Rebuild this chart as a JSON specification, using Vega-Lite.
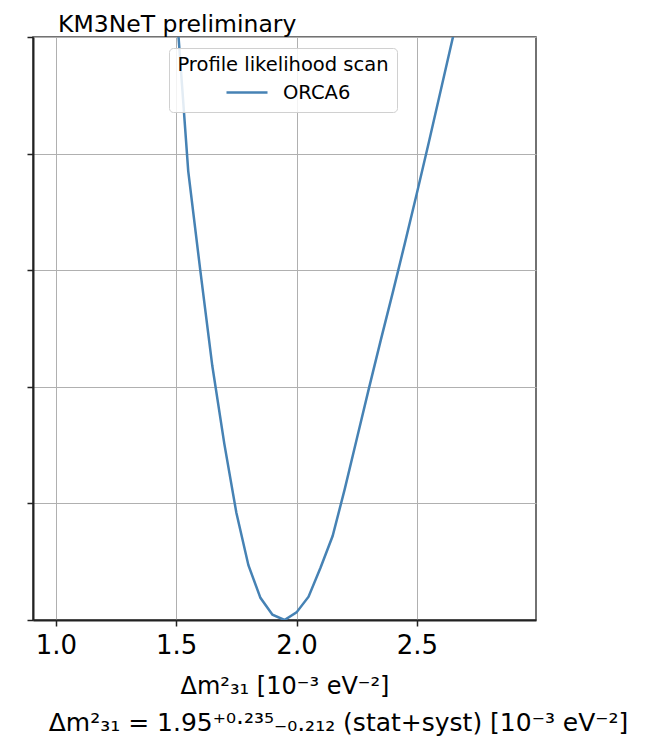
{
  "$schema": "https://vega.github.io/schema/vega-lite/v6.json",
  "autosize": {"type": "none"},
  "width": 503,
  "height": 583,
  "padding": {"left": 33, "top": 37, "right": 110, "bottom": 123},
  "background": "white",
  "title": {
    "text": "KM3NeT preliminary",
    "anchor": "start",
    "frame": "group",
    "dx": 25,
    "dy": 29,
    "offset": 10,
    "baseline": "alphabetic",
    "font": "DejaVu Sans",
    "fontSize": 23.5,
    "fontWeight": "normal",
    "color": "black"
  },
  "config": {
    "view": {"stroke": "#444444", "strokeWidth": 1.5},
    "axis": {
      "labelFont": "DejaVu Sans",
      "titleFont": "DejaVu Sans",
      "labelColor": "black",
      "titleColor": "black",
      "titleFontWeight": "normal",
      "gridColor": "#b0b0b0",
      "gridWidth": 1,
      "gridOpacity": 1,
      "domainColor": "#222222",
      "domainWidth": 2,
      "tickColor": "#222222",
      "tickWidth": 1.5,
      "tickSize": 6
    },
    "legend": {
      "orient": "none",
      "legendX": 136,
      "legendY": 11,
      "fillColor": "rgba(255,255,255,0.85)",
      "strokeColor": "#d0d0d0",
      "cornerRadius": 4,
      "padding": 8,
      "titleFont": "DejaVu Sans",
      "labelFont": "DejaVu Sans",
      "titleFontSize": 19.5,
      "labelFontSize": 19.5,
      "titleFontWeight": "normal",
      "titleColor": "black",
      "labelColor": "black",
      "titleAnchor": "middle",
      "titleLimit": 400,
      "titlePadding": 6,
      "symbolType": "stroke",
      "symbolSize": 1681,
      "symbolStrokeWidth": 2.5,
      "symbolOffset": 9,
      "clipHeight": 22,
      "labelOffset": 14
    }
  },
  "data": {
    "values": [
      {"dm2": 1.00, "dchi2": 25.7, "series": "ORCA6"},
      {"dm2": 1.05, "dchi2": 23.2, "series": "ORCA6"},
      {"dm2": 1.10, "dchi2": 20.8, "series": "ORCA6"},
      {"dm2": 1.15, "dchi2": 18.5, "series": "ORCA6"},
      {"dm2": 1.20, "dchi2": 16.3, "series": "ORCA6"},
      {"dm2": 1.25, "dchi2": 14.2, "series": "ORCA6"},
      {"dm2": 1.30, "dchi2": 12.2, "series": "ORCA6"},
      {"dm2": 1.35, "dchi2": 10.3, "series": "ORCA6"},
      {"dm2": 1.40, "dchi2": 8.5, "series": "ORCA6"},
      {"dm2": 1.45, "dchi2": 6.8, "series": "ORCA6"},
      {"dm2": 1.50, "dchi2": 5.28, "series": "ORCA6"},
      {"dm2": 1.55, "dchi2": 3.85, "series": "ORCA6"},
      {"dm2": 1.60, "dchi2": 3.0, "series": "ORCA6"},
      {"dm2": 1.65, "dchi2": 2.18, "series": "ORCA6"},
      {"dm2": 1.70, "dchi2": 1.51, "series": "ORCA6"},
      {"dm2": 1.75, "dchi2": 0.92, "series": "ORCA6"},
      {"dm2": 1.80, "dchi2": 0.47, "series": "ORCA6"},
      {"dm2": 1.85, "dchi2": 0.19, "series": "ORCA6"},
      {"dm2": 1.90, "dchi2": 0.045, "series": "ORCA6"},
      {"dm2": 1.95, "dchi2": 0.0, "series": "ORCA6"},
      {"dm2": 2.00, "dchi2": 0.065, "series": "ORCA6"},
      {"dm2": 2.05, "dchi2": 0.2, "series": "ORCA6"},
      {"dm2": 2.10, "dchi2": 0.45, "series": "ORCA6"},
      {"dm2": 2.15, "dchi2": 0.72, "series": "ORCA6"},
      {"dm2": 2.20, "dchi2": 1.12, "series": "ORCA6"},
      {"dm2": 2.25, "dchi2": 1.55, "series": "ORCA6"},
      {"dm2": 2.30, "dchi2": 1.98, "series": "ORCA6"},
      {"dm2": 2.35, "dchi2": 2.4, "series": "ORCA6"},
      {"dm2": 2.40, "dchi2": 2.81, "series": "ORCA6"},
      {"dm2": 2.45, "dchi2": 3.23, "series": "ORCA6"},
      {"dm2": 2.50, "dchi2": 3.66, "series": "ORCA6"},
      {"dm2": 2.55, "dchi2": 4.1, "series": "ORCA6"},
      {"dm2": 2.60, "dchi2": 4.55, "series": "ORCA6"},
      {"dm2": 2.65, "dchi2": 5.0, "series": "ORCA6"},
      {"dm2": 2.70, "dchi2": 5.45, "series": "ORCA6"},
      {"dm2": 2.75, "dchi2": 5.9, "series": "ORCA6"},
      {"dm2": 2.80, "dchi2": 6.35, "series": "ORCA6"},
      {"dm2": 2.85, "dchi2": 6.8, "series": "ORCA6"},
      {"dm2": 2.90, "dchi2": 7.25, "series": "ORCA6"}
    ]
  },
  "mark": {"type": "line", "clip": true, "strokeWidth": 2.5},
  "encoding": {
    "x": {
      "field": "dm2",
      "type": "quantitative",
      "scale": {"domain": [0.905, 2.995], "nice": false, "zero": false},
      "axis": {
        "values": [1.0, 1.5, 2.0, 2.5],
        "format": ".1f",
        "labelFontSize": 26,
        "labelPadding": 6,
        "title": "Δm²₃₁ [10⁻³ eV⁻²]",
        "titleFontSize": 24,
        "titlePadding": 16
      }
    },
    "y": {
      "field": "dchi2",
      "type": "quantitative",
      "scale": {"domain": [0, 5], "nice": false},
      "axis": {
        "values": [0, 1, 2, 3, 4, 5],
        "labels": false,
        "title": "Δm²₃₁ = 1.95⁺⁰·²³⁵₋₀.₂₁₂ (stat+syst)  [10⁻³ eV⁻²]",
        "titleAngle": 0,
        "titleAlign": "center",
        "titleBaseline": "alphabetic",
        "titleX": 305,
        "titleY": 693,
        "titleFontSize": 25
      }
    },
    "color": {
      "field": "series",
      "type": "nominal",
      "scale": {"range": ["#4682b4"]},
      "legend": {"title": "Profile likelihood scan"}
    }
  }
}
